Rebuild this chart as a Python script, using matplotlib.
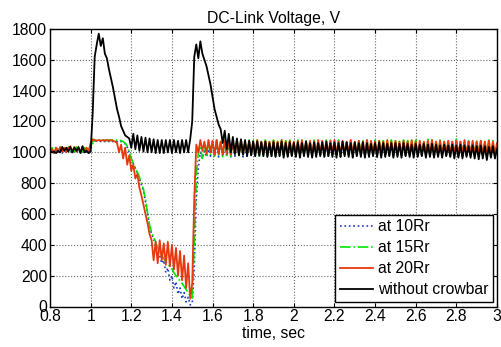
import numpy as np
import matplotlib
matplotlib.use("Agg")
import matplotlib.pyplot as plt

plt.rcParams['font.family'] = ['Liberation Sans', 'DejaVu Sans']

# sample times, sec (0.80 .. 3.00, step 0.01)
t = np.round(np.arange(0.80, 3.0001, 0.01), 2)

v_10rr = [
    1000, 1010, 995, 1015, 1000, 1010, 995, 1015, 1000, 1010,
    995, 1015, 1000, 1010, 995, 1015, 1000, 1010, 995, 1005,
    1020, 1060, 1070, 1075, 1075, 1070, 1075, 1070, 1075, 1070,
    1075, 1070, 1075, 1070, 1075, 1070, 1065, 1055, 1035, 995,
    955, 925, 895, 865, 830, 790, 750, 680, 600, 520,
    470, 440, 400, 350, 330, 280, 300, 220, 250, 170,
    200, 120, 160, 80, 120, 50, 90, 30, 60, 10,
    20, 250, 700, 900, 1000, 960, 1010, 970, 1020, 975,
    1050, 975, 1055, 970, 1060, 980, 1050, 975, 1055, 970,
    1055, 975, 1060, 980, 1050, 970, 1055, 975, 1060, 980,
    1050, 975, 1055, 970, 1060, 980, 1050, 975, 1055, 970,
    1060, 975, 1050, 980, 1055, 970, 1060, 975, 1050, 980,
    1055, 970, 1060, 975, 1050, 980, 1055, 975, 1060, 970,
    1050, 980, 1055, 975, 1060, 970, 1050, 975, 1055, 980,
    1060, 975, 1050, 970, 1055, 980, 1060, 975, 1050, 970,
    1055, 980, 1060, 975, 1050, 970, 1055, 975, 1060, 980,
    1050, 970, 1055, 975, 1060, 980, 1050, 975, 1055, 970,
    1060, 975, 1050, 980, 1055, 970, 1060, 975, 1050, 980,
    1055, 975, 1060, 970, 1050, 980, 1055, 975, 1060, 970,
    1050, 975, 1055, 980, 1060, 970, 1050, 975, 1055, 980,
    1060, 975, 1050, 970, 1055, 980, 1060, 975, 1050, 970,
    1055, 980, 1050, 975, 1055, 970, 1050, 975, 1055, 980,
    1010,
]

v_15rr = [
    1005, 1030, 1000, 1040, 1010, 1030, 1000, 1025, 1010, 1035,
    1005, 1030, 1000, 1035, 1010, 1025, 1000, 1030, 1005, 1020,
    1040, 1070, 1075, 1080, 1075, 1080, 1075, 1080, 1075, 1080,
    1075, 1080, 1075, 1080, 1080, 1075, 1070, 1060, 1040, 1000,
    960, 930, 900, 870, 840, 800, 760, 690, 610, 530,
    480, 450, 420, 370, 350, 330, 310, 290, 275, 260,
    245, 220, 200, 185, 165, 150, 130, 110, 90, 70,
    55, 400, 850, 1000, 1040, 960, 1050, 970, 1080, 980,
    1070, 975, 1080, 985, 1075, 970, 1085, 980, 1070, 975,
    1080, 985, 1075, 980, 1085, 975, 1070, 985, 1080, 980,
    1075, 985, 1080, 975, 1070, 985, 1085, 980, 1075, 985,
    1080, 975, 1070, 985, 1080, 980, 1075, 985, 1085, 975,
    1070, 985, 1080, 980, 1075, 975, 1085, 985, 1070, 980,
    1080, 985, 1075, 980, 1070, 985, 1080, 975, 1085, 980,
    1075, 985, 1080, 975, 1070, 985, 1075, 980, 1080, 985,
    1070, 980, 1085, 985, 1075, 975, 1080, 985, 1070, 980,
    1080, 975, 1075, 985, 1085, 980, 1070, 985, 1080, 975,
    1075, 985, 1070, 980, 1080, 985, 1085, 975, 1075, 985,
    1080, 980, 1070, 985, 1075, 975, 1085, 985, 1080, 980,
    1075, 985, 1080, 975, 1070, 985, 1080, 980, 1075, 985,
    1085, 975, 1070, 985, 1080, 980, 1075, 985, 1070, 975,
    1080, 985, 1075, 980, 1070, 985, 1080, 975, 1075, 985,
    1050,
]

v_20rr = [
    1000, 1020, 995, 1030, 1000, 1035, 1005, 1030, 1000, 1025,
    1040, 1000, 1035, 1005, 1030, 1000, 1035, 1005, 1030, 1010,
    1060, 1085, 1080, 1075, 1080, 1075, 1080, 1075, 1080, 1075,
    1080, 1075, 1070, 1060, 1000, 1050, 960, 1030, 920, 980,
    880, 920, 830, 860, 770, 720, 660, 600, 540, 470,
    430, 300, 420, 280, 430, 300, 410, 270, 420, 260,
    400, 240, 380, 200, 360, 170, 330, 120, 280, 50,
    150, 700, 1050, 1000, 1080, 1010, 1070, 990, 1080, 1000,
    1075, 985, 1080, 990, 1070, 985, 1075, 990, 1080, 985,
    1070, 990, 1075, 985, 1080, 990, 1070, 995, 1075, 985,
    1070, 990, 1080, 985, 1070, 995, 1075, 985, 1070, 990,
    1075, 985, 1070, 990, 1080, 995, 1070, 985, 1075, 990,
    1070, 985, 1075, 990, 1080, 985, 1070, 995, 1075, 990,
    1070, 985, 1080, 990, 1075, 985, 1070, 990, 1075, 995,
    1080, 985, 1070, 990, 1075, 985, 1070, 995, 1080, 990,
    1070, 985, 1075, 990, 1070, 985, 1080, 990, 1075, 995,
    1070, 985, 1075, 990, 1070, 985, 1080, 990, 1070, 985,
    1075, 990, 1070, 985, 1075, 995, 1070, 985, 1080, 990,
    1070, 985, 1075, 990, 1070, 985, 1075, 990, 1080, 985,
    1070, 990, 1075, 985, 1070, 995, 1075, 985, 1070, 990,
    1075, 985, 1070, 990, 1080, 985, 1070, 990, 1075, 985,
    1070, 990, 1075, 985, 1070, 990, 1075, 985, 1070, 990,
    1060,
]

v_nocrowbar = [
    1010, 1000, 1005, 995, 1010, 1000, 1035, 1010, 1030, 1005,
    1035, 1000, 1030, 1010, 1035, 995, 1040, 1000, 1010, 995,
    1005, 1250, 1620, 1700, 1770, 1690, 1740, 1640, 1610, 1540,
    1480, 1420, 1350, 1280, 1230, 1170, 1140, 1110, 1100, 1090,
    1030, 1120, 1020, 1110, 1010, 1100, 1005, 1095, 1000, 1090,
    1000, 1085, 995, 1080, 995, 1080, 995, 1080, 1000, 1080,
    995, 1080, 1000, 1075, 995, 1080, 1000, 1080, 1000, 1085,
    1200, 1620, 1700, 1610, 1720, 1640, 1600, 1560, 1500, 1440,
    1360, 1280, 1230, 1180, 1150, 1060, 1140, 1020, 1120, 1000,
    1100, 990, 1090, 980, 1085, 985, 1080, 975, 1075, 980,
    1070, 975, 1070, 980, 1065, 975, 1070, 970, 1060, 975,
    1065, 970, 1060, 975, 1070, 965, 1060, 970, 1065, 975,
    1060, 970, 1065, 965, 1060, 975, 1070, 970, 1060, 965,
    1065, 970, 1060, 975, 1065, 970, 1070, 975, 1060, 970,
    1065, 965, 1060, 970, 1070, 975, 1065, 970, 1060, 965,
    1065, 975, 1060, 970, 1065, 965, 1060, 970, 1055, 975,
    1060, 970, 1065, 965, 1060, 970, 1055, 975, 1060, 965,
    1060, 970, 1055, 965, 1060, 975, 1055, 970, 1050, 965,
    1055, 970, 1050, 975, 1055, 965, 1050, 970, 1055, 965,
    1050, 970, 1045, 965, 1050, 975, 1045, 970, 1050, 960,
    1045, 965, 1050, 960, 1045, 970, 1040, 965, 1045, 960,
    1040, 955, 1045, 960, 1040, 950, 1035, 965, 1040, 960,
    1020,
]

labels = ['at 10Rr', 'at 15Rr', 'at 20Rr', 'without crowbar']
x_ticks = [0.8, 1.0, 1.2, 1.4, 1.6, 1.8, 2.0, 2.2, 2.4, 2.6, 2.8, 3.0]
x_ticklabels = ['0.8', '1', '1.2', '1.4', '1.6', '1.8', '2', '2.2', '2.4', '2.6', '2.8', '3']
y_ticks = [0, 200, 400, 600, 800, 1000, 1200, 1400, 1600, 1800]

fig = plt.figure(figsize=(5.02, 3.47), dpi=100)
ax = fig.add_axes([50 / 502, 1 - 306.5 / 347, 447 / 502, 277.5 / 347])

ax.plot(t, v_10rr, color='#1c3cc0', ls=':', lw=1.2, label=labels[0])
ax.plot(t, v_15rr, color='#00e600', ls='-.', lw=1.2, label=labels[1])
ax.plot(t, v_20rr, color='#e8380c', ls='-', lw=1.3, label=labels[2])
ax.plot(t, v_nocrowbar, color='black', ls='-', lw=1.3, label=labels[3])

ax.set_xlim(0.8, 3.0)
ax.set_ylim(0, 1800)
ax.set_xticks(x_ticks)
ax.set_xticklabels(x_ticklabels)
ax.set_yticks(y_ticks)
ax.tick_params(direction='in', top=True, right=True, labelsize=11.3, length=3, pad=2)
ax.grid(True, color='#666666', ls=':', lw=0.8)
for s in ax.spines.values():
    s.set_linewidth(1.0)

ax.set_title('DC-Link Voltage, V', fontsize=11.3, pad=4)
ax.set_xlabel('time, sec', fontsize=11.3, labelpad=1)

leg = ax.legend(loc='lower right', bbox_to_anchor=(0.991, 0.016), borderaxespad=0,
                fontsize=11.3, fancybox=False, framealpha=1, edgecolor='black',
                handlelength=2.1, handletextpad=0.3, labelspacing=0.38,
                borderpad=0.3)
leg.get_frame().set_linewidth(1.0)

fig.savefig('out.png', dpi=100)
